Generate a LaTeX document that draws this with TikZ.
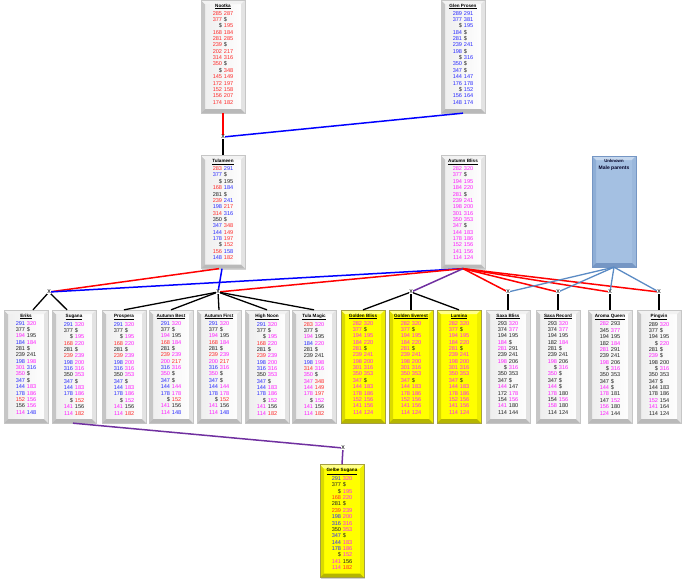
\documentclass[tikz,border=0pt]{standalone}
\usepackage{fontspec}
\setmainfont{Liberation Sans}
\usetikzlibrary{shadows}
\definecolor{cR}{HTML}{FF2A2A}
\definecolor{cB}{HTML}{2A2AFF}
\definecolor{cM}{HTML}{FF1AFF}
\definecolor{cK}{HTML}{222222}
\definecolor{lnR}{HTML}{FF0000}
\definecolor{lnB}{HTML}{0000FF}
\definecolor{lnP}{HTML}{7030A0}
\definecolor{lnS}{HTML}{5B8BC4}
\definecolor{ukface}{HTML}{A4C0E2}
\definecolor{ukleft}{HTML}{8EAED6}
\definecolor{uktop}{HTML}{C6D8EE}
\definecolor{ukright}{HTML}{9BB8DC}
\definecolor{ukbot}{HTML}{7596C4}
\definecolor{yface}{HTML}{FFFF00}
\definecolor{yleft}{HTML}{DADA00}
\definecolor{ytop}{HTML}{FFFF88}
\definecolor{yright}{HTML}{EEEE00}
\definecolor{ybot}{HTML}{B5B500}
\newcommand\rw[4]{\textcolor{c#1}{#2}&\textcolor{c#3}{#4}\\}
\newcommand\ttl[1]{{\fontsize{4.6}{6.36}\selectfont\bfseries\underline{#1}}}
\tikzset{
 bev/.style n args={5}{
   path picture={
     \fill[#1] (path picture bounding box.south west) rectangle (path picture bounding box.north east);
     \fill[#2] (path picture bounding box.south west) -- (path picture bounding box.north west) -- ([shift={(4pt,-4pt)}]path picture bounding box.north west) -- ([shift={(4pt,4pt)}]path picture bounding box.south west) -- cycle;
     \fill[#3] (path picture bounding box.north west) -- (path picture bounding box.north east) -- ([shift={(-4pt,-4pt)}]path picture bounding box.north east) -- ([shift={(4pt,-4pt)}]path picture bounding box.north west) -- cycle;
     \fill[#4] (path picture bounding box.north east) -- (path picture bounding box.south east) -- ([shift={(-4pt,4pt)}]path picture bounding box.south east) -- ([shift={(-4pt,-4pt)}]path picture bounding box.north east) -- cycle;
     \fill[#5] (path picture bounding box.south east) -- (path picture bounding box.south west) -- ([shift={(4pt,4pt)}]path picture bounding box.south west) -- ([shift={(-4pt,4pt)}]path picture bounding box.south east) -- cycle;
   }},
 boxbase/.style={rectangle, minimum width=44pt, minimum height=113pt, inner sep=0pt,
   draw=gray!45, line width=0.3pt,
   drop shadow={shadow xshift=1.3pt, shadow yshift=-1.3pt, opacity=0.35, fill=gray}},
 graybox/.style={boxbase, bev={{left color=gray!14, right color=white}}{gray!45}{gray!10}{gray!22}{gray!55}},
 yelbox/.style={boxbase, draw=yellow!60!black, bev={yface}{yleft}{ytop}{yright}{ybot}},
 ukbox/.style={boxbase, minimum height=111pt, draw=ukbot, bev={ukface}{ukleft}{uktop}{ukright}{ukbot}},
 txt/.style={inner sep=0pt, font=\fontsize{5.6}{6.36}\selectfont},
 cross/.style={inner sep=0.4pt, fill=white, font=\fontsize{7}{7}\selectfont},
 lw/.style={line width=1.5pt},
 lk/.style={line width=1.3pt, black},
}
\newcommand\bx[6]{%
  \node[#4] (#1) at (#2,#3) {};
  \node[txt, anchor=north] (#1T) at ([yshift=-2.5pt]#1.north)
   {\begin{tabular}{@{}r@{\hspace{1.8pt}}l@{}}\multicolumn{2}{c}{\makebox[0pt]{\ttl{#5}}}\\\noalign{\vskip1.6pt}#6\end{tabular}};}
\newcommand\suganarows[1]{%
 \rw B{291}M{320}\rw K{377}K{\$}\rw K{\$}M{195}\rw R{168}M{220}\rw K{281}K{\$}%
 \rw R{239}M{239}\rw B{198}M{200}\rw B{316}M{316}\rw K{350}M{353}\rw B{347}K{\$}%
 \rw B{144}M{183}\rw B{178}M{186}\rw K{\$}#1{152}\rw M{141}K{156}\rw M{114}R{182}}
\newcommand\abrows{%
 \rw M{282}M{320}\rw M{377}K{\$}\rw M{194}M{195}\rw M{184}M{220}\rw M{281}K{\$}%
 \rw M{239}M{241}\rw M{198}M{200}\rw M{301}M{316}\rw M{350}M{353}\rw M{347}K{\$}%
 \rw M{144}M{183}\rw M{178}M{186}\rw M{152}M{156}\rw M{141}M{156}\rw M{114}M{124}}
\newcommand\bestrows{%
 \rw B{291}M{320}\rw K{377}K{\$}\rw M{194}K{195}\rw R{168}M{184}\rw K{281}K{\$}%
 \rw R{239}M{239}\rw M{200}R{217}\rw B{316}M{316}\rw M{350}K{\$}\rw B{347}K{\$}%
 \rw B{144}M{144}\rw B{178}M{178}\rw K{\$}R{152}\rw M{141}K{156}\rw M{114}B{148}}
\begin{document}
\begin{tikzpicture}[x=1pt, y=-1pt]
\useasboundingbox (0,0) rectangle (685,582);
% ---------- parents ----------
\bx{nootka}{223}{56.5}{graybox}{Nootka}{%
 \rw R{285}R{287}\rw R{377}K{\$}\rw K{\$}R{195}\rw R{168}R{184}\rw R{281}R{285}%
 \rw R{239}K{\$}\rw R{202}R{217}\rw R{314}R{316}\rw R{350}K{\$}\rw K{\$}R{348}%
 \rw R{145}R{149}\rw R{172}R{197}\rw R{152}R{158}\rw R{156}R{207}\rw R{174}R{182}}
\bx{glen}{463}{56.5}{graybox}{Glen Prosen}{%
 \rw B{289}B{291}\rw B{377}B{381}\rw K{\$}B{195}\rw B{184}K{\$}\rw B{281}K{\$}%
 \rw B{239}B{241}\rw B{198}K{\$}\rw K{\$}B{316}\rw B{350}K{\$}\rw B{347}K{\$}%
 \rw B{144}B{147}\rw B{176}B{178}\rw K{\$}B{152}\rw B{156}B{164}\rw B{148}B{174}}
\bx{tulameen}{223}{212}{graybox}{Tulameen}{%
 \rw R{283}B{291}\rw B{377}K{\$}\rw K{\$}K{195}\rw R{168}B{184}\rw K{281}K{\$}%
 \rw R{239}B{241}\rw B{198}R{217}\rw R{314}B{316}\rw K{350}K{\$}\rw B{347}R{348}%
 \rw B{144}R{149}\rw B{178}R{197}\rw K{\$}R{152}\rw R{156}B{158}\rw B{148}R{182}}
\bx{abliss}{463}{212}{graybox}{Autumn Bliss}{\abrows}
\node[ukbox] (unknown) at (614,211.5) {};
\node[inner sep=0pt, anchor=north, align=center, text=black!85!blue,
      font=\fontsize{5}{6.8}\selectfont\bfseries]
  (unknownT) at ([yshift=-3.5pt]unknown.north)
  {{\fontsize{4.3}{6.8}\selectfont Unknown}\\Male parents};
% ---------- offspring ----------
\bx{eriks}{26}{366.5}{graybox}{Eriks}{%
 \rw B{291}M{320}\rw K{377}K{\$}\rw M{194}K{195}\rw B{184}M{184}\rw K{281}K{\$}%
 \rw K{239}K{241}\rw B{198}M{198}\rw M{301}B{316}\rw M{350}K{\$}\rw B{347}K{\$}%
 \rw B{144}M{183}\rw B{178}M{186}\rw R{152}M{156}\rw K{156}M{156}\rw M{114}B{148}}
\bx{sugana}{74}{366.5}{graybox}{Sugana}{\suganarows R}
\bx{prospera}{124}{366.5}{graybox}{Prospera}{\suganarows M}
\bx{abest}{171}{366.5}{graybox}{Autumn Best}{\bestrows}
\bx{afirst}{219}{366.5}{graybox}{Autumn First}{\bestrows}
\bx{hnoon}{267}{366.5}{graybox}{High Noon}{\suganarows M}
\bx{tula}{314}{366.5}{graybox}{Tula Magic}{%
 \rw R{283}M{320}\rw K{377}K{\$}\rw M{194}K{195}\rw B{184}M{220}\rw K{281}K{\$}%
 \rw K{239}K{241}\rw B{198}M{198}\rw R{314}M{316}\rw M{350}K{\$}\rw M{347}R{348}%
 \rw M{144}R{149}\rw M{178}R{197}\rw K{\$}M{152}\rw M{141}K{156}\rw M{114}R{182}}
\bx{gbliss}{363}{366.5}{yelbox}{Golden Bliss}{\abrows}
\bx{gever}{411}{366.5}{yelbox}{Golden Everest}{\abrows}
\bx{lumina}{459}{366.5}{yelbox}{Lumina}{\abrows}
\bx{sbliss}{508}{366.5}{graybox}{Saxa Bliss}{%
 \rw K{293}M{320}\rw K{374}M{377}\rw K{194}K{195}\rw M{184}K{\$}\rw M{281}K{291}%
 \rw K{239}K{241}\rw M{198}K{206}\rw K{\$}M{316}\rw K{350}K{353}\rw K{347}K{\$}%
 \rw M{144}K{147}\rw K{172}M{178}\rw K{154}M{156}\rw M{141}K{180}\rw K{114}K{144}}
\bx{srecord}{558}{366.5}{graybox}{Saxa Record}{%
 \rw K{293}M{320}\rw K{374}M{377}\rw K{194}K{195}\rw K{182}M{184}\rw K{281}K{\$}%
 \rw K{239}K{241}\rw M{198}K{206}\rw K{\$}M{316}\rw M{350}K{\$}\rw K{347}K{\$}%
 \rw M{144}K{\$}\rw M{178}K{180}\rw K{154}M{156}\rw M{158}K{180}\rw K{114}K{124}}
\bx{aqueen}{610}{366.5}{graybox}{Aroma Queen}{%
 \rw M{282}K{293}\rw K{345}M{377}\rw K{194}K{195}\rw K{182}M{184}\rw M{281}K{291}%
 \rw K{239}K{241}\rw M{198}K{206}\rw K{\$}M{316}\rw K{350}K{353}\rw K{347}K{\$}%
 \rw M{144}K{\$}\rw M{178}K{181}\rw K{147}M{152}\rw M{156}K{180}\rw M{124}K{144}}
\bx{pingvin}{659}{366.5}{graybox}{Pingvin}{%
 \rw K{289}M{320}\rw K{377}K{\$}\rw K{194}K{195}\rw K{\$}M{220}\rw K{281}K{\$}%
 \rw M{239}K{\$}\rw K{198}K{200}\rw K{\$}M{316}\rw K{350}K{353}\rw K{347}K{\$}%
 \rw K{144}K{183}\rw K{178}K{186}\rw M{152}K{154}\rw M{141}K{164}\rw K{114}K{124}}
\bx{gelbe}{342}{521}{yelbox}{Gelbe Sugana}{\suganarows M}
% ---------- cross points ----------
\coordinate (m0) at (223,137);
\coordinate (m1) at (49,292);
\coordinate (m2) at (218,292);
\coordinate (m3) at (411,292);
\coordinate (m4) at (508,292);
\coordinate (m5) at (558,292);
\coordinate (m6) at (610,292);
\coordinate (m7) at (659,292);
\coordinate (m8) at (343,448);
% ---------- connectors ----------
\draw[lw, lnR] (nootka.south) -- (m0);
\draw[lw, lnB] (glen.south) -- (m0);
\draw[lk] (m0) -- (tulameen.north);
\draw[lw, lnR] ([xshift=-4pt]tulameen.south) -- (m1);
\draw[lw, lnB] ([xshift=-1pt]tulameen.south) -- (m2);
\draw[lw, lnB] (abliss.south) -- (m1);
\draw[lw, lnR] (abliss.south) -- (m2);
\draw[lw, lnP] (abliss.south) -- (m3);
\foreach \m in {m4,m5,m6,m7} \draw[lw, lnR] (abliss.south) -- (\m);
\foreach \m in {m4,m5,m6,m7} \draw[line width=1.3pt, lnS] (unknown.south) -- (\m);
\draw[lk] (m1) -- (eriks.83);
\draw[lk] (m1) -- (sugana.97);
\foreach \n in {prospera,abest,afirst,hnoon,tula} \draw[lk] (m2) -- (\n.north);
\foreach \n in {gbliss,gever,lumina} \draw[lk] (m3) -- (\n.north);
\draw[lk] (m4) -- (sbliss.north);
\draw[lk] (m5) -- (srecord.north);
\draw[lk] (m6) -- (aqueen.north);
\draw[lk] (m7) -- (pingvin.north);
\draw[lw, lnP] ([xshift=-1pt]sugana.south) -- (m8);
\draw[lw, lnP] (m8) -- (gelbe.north);
% ---------- cross marks ----------
\foreach \m in {m0,m1,m2,m3,m4,m5,m6,m7,m8} \node[cross] (\m x) at (\m) {x};
\end{tikzpicture}
\end{document}
